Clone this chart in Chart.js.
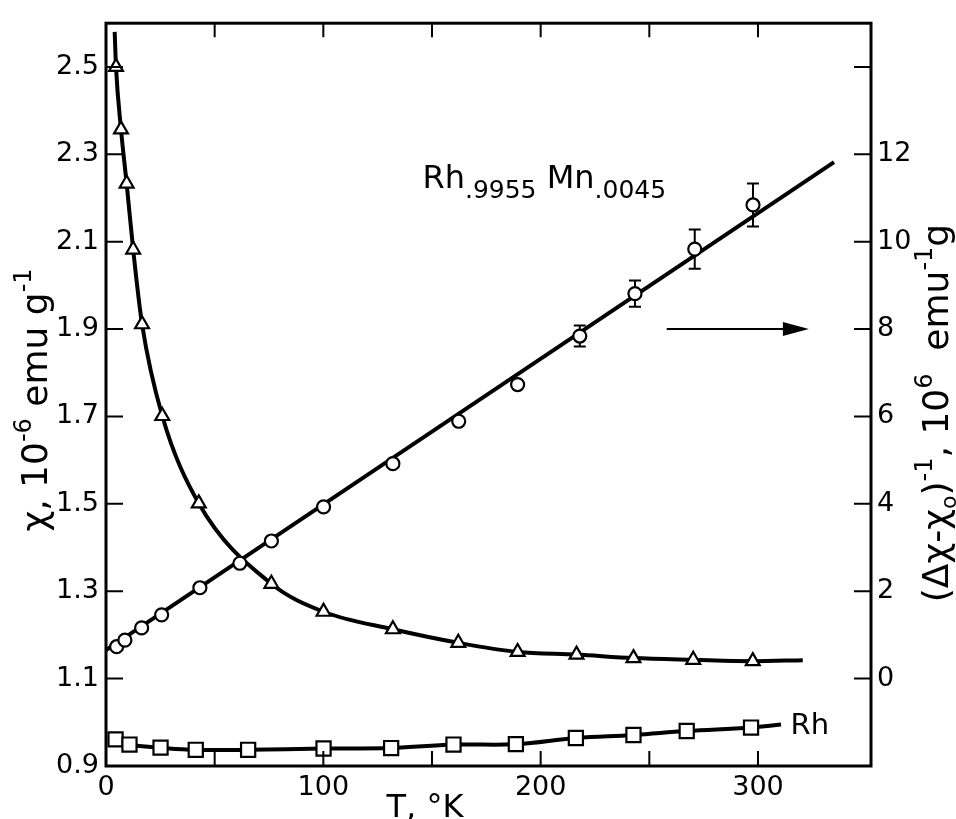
<!DOCTYPE html>
<html>
<head>
<meta charset="utf-8">
<script src="https://cdn.jsdelivr.net/npm/chart.js@4.4.1/dist/chart.umd.min.js"></script>
<style>
html, body { margin: 0; padding: 0; background: #fff; }
</style>
</head>
<body>
<canvas id="chiChart" width="956" height="819"></canvas>
<script>
// Rh.9955 Mn.0045 susceptibility (left axis) and inverse (right axis)
const triT   = [4.6, 6.9, 9.5, 12.5, 16.6, 25.9, 42.7, 76.1, 100.1, 132, 162.1, 189.4, 216.5, 242.7, 270.2, 297.6];
const triChi = [2.50, 2.357, 2.233, 2.082, 1.911, 1.701, 1.501, 1.317, 1.253, 1.213, 1.182, 1.161, 1.155, 1.147, 1.143, 1.140];

// smooth curve drawn through the triangles (incl. its two ends)
const triCurveT   = [4.0, ...triT, 320.6];
const triCurveChi = [2.58, ...triChi, 1.142];

// (dchi - chi0)^-1, 10^6 emu^-1 g
const circT   = [4.9, 8.7, 16.4, 25.6, 43.2, 61.6, 76.1, 100.1, 132, 162.3, 189.4, 218, 243.4, 270.9, 297.7];
const circInv = [0.73, 0.88, 1.16, 1.46, 2.08, 2.64, 3.15, 3.93, 4.92, 5.89, 6.73, 7.84, 8.81, 9.83, 10.84];
const circErr = [0, 0, 0, 0, 0, 0, 0, 0, 0, 0, 0, 0.24, 0.30, 0.45, 0.49];
const fitT   = [0, 335];
const fitInv = [0.65, 11.82];

// pure Rh
const sqT   = [4.4, 10.8, 25.1, 41.3, 65.4, 100.1, 131.2, 159.9, 188.6, 216.2, 242.7, 267.2, 296.8];
const sqChi = [0.961, 0.949, 0.942, 0.937, 0.937, 0.940, 0.941, 0.949, 0.950, 0.964, 0.971, 0.980, 0.988];
const sqCurveT   = [...sqT, 310.6];
const sqCurveChi = [...sqChi, 0.995];

// axes
const xTicks = [0, 100, 200, 300];
const xMarks = [50, 100, 150, 200, 250, 300];
const leftTicks = [0.9, 1.1, 1.3, 1.5, 1.7, 1.9, 2.1, 2.3, 2.5];
const leftMarks = [1.1, 1.3, 1.5, 1.7, 1.9, 2.1, 2.3, 2.5];
const rightTicks = [0, 2, 4, 6, 8, 10, 12];
const rightMarks = [0, 2, 4, 6, 8, 10, 12, 14];

const FONT = 'DejaVu Sans';
const pts = (xs, ys) => xs.map((x, i) => ({ x: x, y: ys[i] }));

function drawRich(ctx, runs, x, y, angle, align) {
    ctx.save();
    ctx.translate(x, y);
    ctx.rotate(angle);
    let total = 0;
    runs.forEach(r => {
        ctx.font = r.size + 'px "' + FONT + '"';
        r.w = ctx.measureText(r.t).width;
        total += r.w;
    });
    let cx = align === 'center' ? -total / 2 : 0;
    ctx.textAlign = 'left';
    ctx.textBaseline = 'alphabetic';
    ctx.fillStyle = '#000';
    runs.forEach(r => {
        ctx.font = r.size + 'px "' + FONT + '"';
        ctx.fillText(r.t, cx, r.dy || 0);
        cx += r.w;
    });
    ctx.restore();
}

const paperPlugin = {
    id: 'paper',
    beforeDatasetsDraw(chart) {
        const ctx = chart.ctx, sx = chart.scales.x, sy2 = chart.scales.y2;
        // error bars
        ctx.save();
        ctx.strokeStyle = '#000';
        ctx.lineWidth = 2;
        circT.forEach((t, i) => {
            if (!circErr[i]) return;
            const px = sx.getPixelForValue(t);
            const top = sy2.getPixelForValue(circInv[i] + circErr[i]);
            const bot = sy2.getPixelForValue(circInv[i] - circErr[i]);
            ctx.beginPath();
            ctx.moveTo(px, top); ctx.lineTo(px, bot);
            ctx.moveTo(px - 6, top); ctx.lineTo(px + 6, top);
            ctx.moveTo(px - 6, bot); ctx.lineTo(px + 6, bot);
            ctx.stroke();
        });
        ctx.restore();
    },
    afterDraw(chart) {
        const ctx = chart.ctx, a = chart.chartArea;
        const sx = chart.scales.x, sy = chart.scales.y, sy2 = chart.scales.y2;
        ctx.save();
        ctx.strokeStyle = '#000';
        // frame
        ctx.lineWidth = 3;
        ctx.strokeRect(a.left, a.top, a.right - a.left, a.bottom - a.top);
        // inward tick marks
        ctx.lineWidth = 2;
        ctx.beginPath();
        leftMarks.forEach(v => { const p = sy.getPixelForValue(v); ctx.moveTo(a.left, p); ctx.lineTo(a.left + 17, p); });
        rightMarks.forEach(v => { const p = sy2.getPixelForValue(v); ctx.moveTo(a.right, p); ctx.lineTo(a.right - 17, p); });
        xMarks.forEach(v => {
            const p = sx.getPixelForValue(v);
            ctx.moveTo(p, a.bottom); ctx.lineTo(p, a.bottom - 15);
            ctx.moveTo(p, a.top); ctx.lineTo(p, a.top + 14);
        });
        ctx.stroke();

        // arrow pointing to right axis
        const ay = sy2.getPixelForValue(8);
        const ax0 = sx.getPixelForValue(258), ax1 = sx.getPixelForValue(323.4);
        ctx.lineWidth = 2;
        ctx.beginPath(); ctx.moveTo(ax0, ay); ctx.lineTo(ax1 - 20, ay); ctx.stroke();
        ctx.fillStyle = '#000';
        ctx.beginPath();
        ctx.moveTo(ax1, ay); ctx.lineTo(ax1 - 26, ay - 7); ctx.lineTo(ax1 - 26, ay + 7);
        ctx.closePath(); ctx.fill();
        ctx.restore();

        // compound label
        drawRich(ctx, [
            { t: 'Rh', size: 32 },
            { t: '.9955', size: 25, dy: 10 },
            { t: ' Mn', size: 32 },
            { t: '.0045', size: 25, dy: 10 }
        ], sx.getPixelForValue(145.6), sy.getPixelForValue(2.222), 0, 'left');

        drawRich(ctx, [{ t: 'Rh', size: 29 }], sx.getPixelForValue(315), sy.getPixelForValue(0.973), 0, 'left');

        // axis titles
        drawRich(ctx, [
            { t: 'T, \u00b0K', size: 32 }
        ], 425, 817, 0, 'center');

        drawRich(ctx, [
            { t: '\u03c7, 10', size: 36 },
            { t: '-6', size: 24, dy: -16 },
            { t: ' emu g', size: 36 },
            { t: '-1', size: 24, dy: -16 }
        ], 47, 400, -Math.PI / 2, 'center');

        drawRich(ctx, [
            { t: '(\u0394\u03c7-\u03c7', size: 36 },
            { t: 'o', size: 22, dy: 8 },
            { t: ')', size: 36 },
            { t: '-1', size: 24, dy: -16 },
            { t: ', 10', size: 36 },
            { t: '6', size: 24, dy: -16 },
            { t: '  emu', size: 36 },
            { t: '-1', size: 24, dy: -16 },
            { t: 'g', size: 36 }
        ], 948, 413, -Math.PI / 2, 'center');
    }
};

const tickFont = { family: FONT, size: 27 };
const noGrid = { display: false, drawTicks: false };

new Chart(document.getElementById('chiChart').getContext('2d'), {
    type: 'line',
    data: {
        datasets: [
            { data: pts(triT, triChi), yAxisID: 'y', showLine: false, pointStyle: 'triangle', pointRadius: 8,
              pointBackgroundColor: '#fff', pointBorderColor: '#000', pointBorderWidth: 2.2, order: 1 },
            { data: pts(circT, circInv), yAxisID: 'y2', showLine: false, pointStyle: 'circle', pointRadius: 6.5,
              pointBackgroundColor: '#fff', pointBorderColor: '#000', pointBorderWidth: 2.2, order: 1 },
            { data: pts(sqT, sqChi), yAxisID: 'y', showLine: false, pointStyle: 'rect', pointRadius: 10,
              pointBackgroundColor: '#fff', pointBorderColor: '#000', pointBorderWidth: 2.2, order: 1 },
            { data: pts(triCurveT, triCurveChi), yAxisID: 'y', borderColor: '#000', borderWidth: 4, pointRadius: 0,
              cubicInterpolationMode: 'monotone', tension: 0.4, order: 5 },
            { data: pts(fitT, fitInv), yAxisID: 'y2', borderColor: '#000', borderWidth: 4, pointRadius: 0, order: 5 },
            { data: pts(sqCurveT, sqCurveChi), yAxisID: 'y', borderColor: '#000', borderWidth: 4, pointRadius: 0,
              tension: 0.4, order: 5 }
        ]
    },
    options: {
        responsive: false,
        animation: false,
        plugins: { legend: { display: false }, tooltip: { enabled: false } },
        layout: { padding: { top: 14, left: 0, right: 0, bottom: 0 } },
        scales: {
            x: {
                type: 'linear', min: 0, max: 352,
                afterBuildTicks: s => { s.ticks = xTicks.map(v => ({ value: v })); },
                afterFit: s => { s.height = 53; },
                grid: noGrid, border: { display: false },
                ticks: { font: tickFont, color: '#000', padding: 6, maxRotation: 0, autoSkip: false }
            },
            y: {
                position: 'left', min: 0.9, max: 2.6,
                afterBuildTicks: s => { s.ticks = leftTicks.map(v => ({ value: v })); },
                afterFit: s => { s.width = 106; },
                grid: noGrid, border: { display: false },
                ticks: { font: tickFont, color: '#000', padding: 7, autoSkip: false, callback: v => v.toFixed(1) }
            },
            y2: {
                position: 'right', min: -2, max: 15,
                afterBuildTicks: s => { s.ticks = rightTicks.map(v => ({ value: v })); },
                afterFit: s => { s.width = 85; },
                grid: noGrid, border: { display: false },
                ticks: { font: tickFont, color: '#000', padding: 6, autoSkip: false }
            }
        }
    },
    plugins: [paperPlugin]
});
</script>
</body>
</html>
